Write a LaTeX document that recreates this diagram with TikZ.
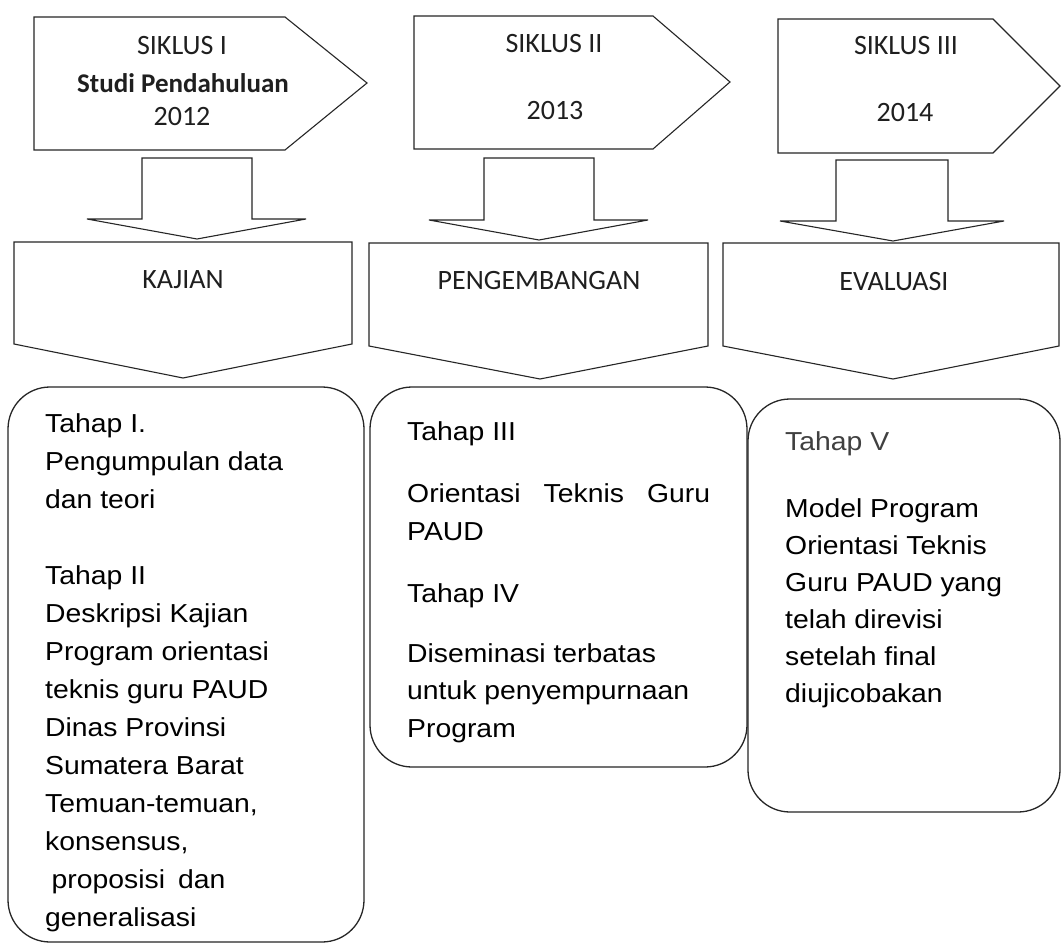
\documentclass[tikz,border=0pt]{standalone}
\usepackage{fontspec}
\newfontfamily\labelfont{Carlito}
\newfontfamily\bodyfont[FakeStretch=1.09]{Liberation Sans}
\begin{document}
\begin{tikzpicture}[x=1pt,y=-1pt,
  outline/.style={draw=black!85, line width=1.1pt, line join=miter, fill=white},
  roundbox/.style={draw=black!85, line width=1.3pt, rounded corners=42pt},
  headtext/.style={font=\labelfont\fontsize{28}{30}\selectfont, text=black!88, inner sep=0pt, anchor=base},
  bodytext/.style={font=\bodyfont\fontsize{26}{38}\selectfont, align=left, inner sep=0pt, anchor=north west, text=black},
]
\useasboundingbox (0,0) rectangle (1061,947);
\fill[white] (0,0) rectangle (1061,947);

% cycle headers
\draw[outline] (34,17) -- (285,17) -- (367,83) -- (285,150) -- (34,150) -- cycle;
\draw[outline] (414,16) -- (653,16) -- (730,82) -- (653,149) -- (414,149) -- cycle;
\draw[outline] (778,19) -- (993,19) -- (1060,86) -- (993,153) -- (778,153) -- cycle;

\node[headtext] (s1) at (182,55) {SIKLUS I};
\node[headtext, font=\labelfont\bfseries\fontsize{27}{30}\selectfont] (s1b) at (183,93) {Studi Pendahuluan};
\node[headtext] (y1) at (182,126) {2012};
\node[headtext] (s2) at (554,53) {SIKLUS II};
\node[headtext] (y2) at (555,120) {2013};
\node[headtext] (s3) at (906,55) {SIKLUS III};
\node[headtext] (y3) at (905,122) {2014};

% small down arrows
\draw[outline] (142,158) -- (252,158) -- (252,219) -- (306,219) -- (197,239) -- (87,219) -- (142,219) -- cycle;
\draw[outline] (484,158) -- (594,158) -- (594,220) -- (648,220) -- (539,240) -- (429,220) -- (484,220) -- cycle;
\draw[outline] (836,160) -- (948,160) -- (948,221) -- (1004,221) -- (893,241) -- (780,221) -- (836,221) -- cycle;

% phase arrows
\draw[outline] (14,242) -- (352,242) -- (352,344) -- (183,378) -- (14,344) -- cycle;
\draw[outline] (369,243) -- (708,243) -- (708,346) -- (540,379) -- (369,346) -- cycle;
\draw[outline] (723,243) -- (1059,243) -- (1059,346) -- (893,379) -- (723,346) -- cycle;

\node[headtext] (p1) at (183,288) {KAJIAN};
\node[headtext] (p2) at (539,289) {PENGEMBANGAN};
\node[headtext] (p3) at (894,290) {EVALUASI};

% stage boxes
\draw[roundbox] (8,387) rectangle (364,942);
\draw[roundbox] (370,387) rectangle (747,767);
\draw[roundbox] (748,399) rectangle (1060,812);

\node[bodytext] (t1) at (45,413) {Tahap I.\\
Pengumpulan data\\
dan teori\\[38pt]
Tahap II\\
Deskripsi Kajian\\
Program orientasi\\
teknis guru PAUD\\
Dinas Provinsi\\
Sumatera Barat\\
Temuan-temuan,\\
konsensus,\\
\hspace*{0.25em}proposisi\hspace{0.5em}dan\\
generalisasi};

\node[bodytext, font=\bodyfont\fontsize{26}{37.5}\selectfont] (t2) at (407,421) {Tahap III\\[25pt]
\makebox[303pt][s]{Orientasi Teknis Guru}\\
PAUD\\[25pt]
Tahap IV\\[22pt]
Diseminasi terbatas\\
untuk penyempurnaan\\
Program};

\node[bodytext, font=\bodyfont\fontsize{26}{37}\selectfont] (t3) at (785,431) {\textcolor{black!75}{Tahap V}\\[30pt]
Model Program\\
Orientasi Teknis\\
Guru PAUD yang\\
telah direvisi\\
setelah final\\
diujicobakan};
\end{tikzpicture}
\end{document}
